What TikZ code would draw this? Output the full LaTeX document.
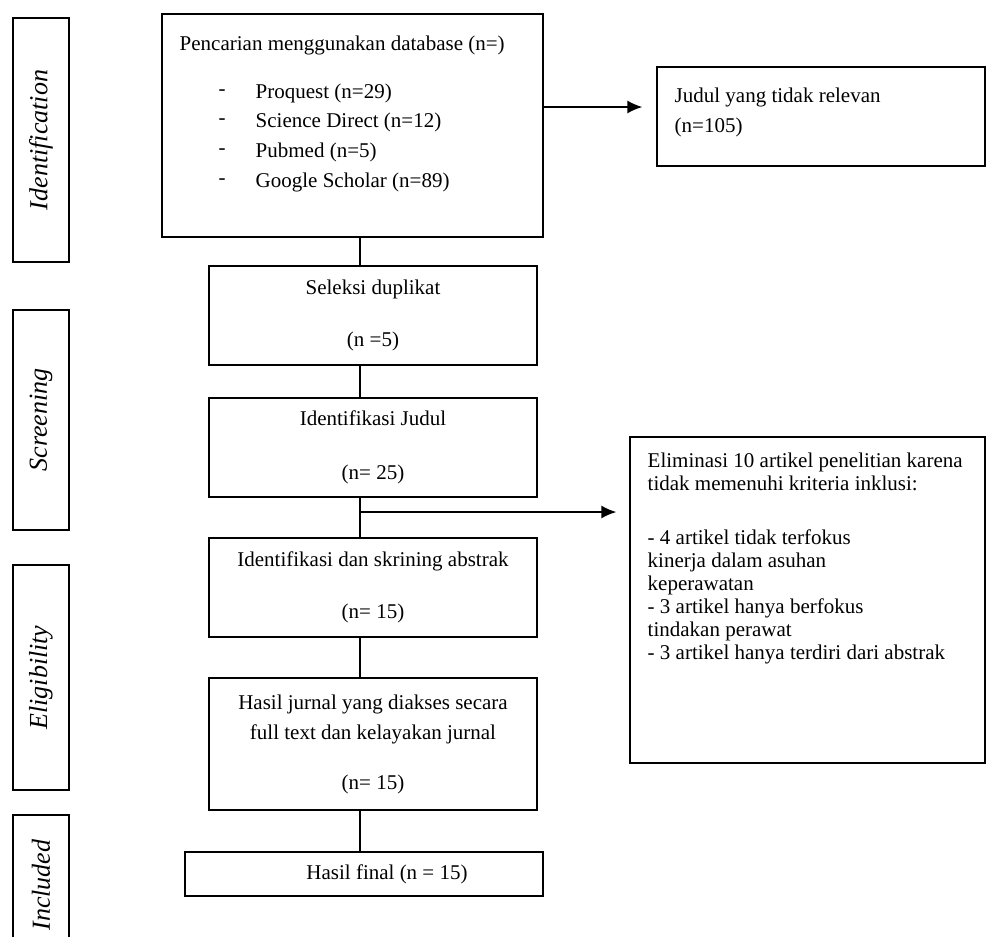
\documentclass[tikz,border=0pt]{standalone}
\usepackage{fontspec}
\usepackage{graphicx}
\setmainfont{Liberation Serif}
\usetikzlibrary{arrows.meta}
\begin{document}
\begin{tikzpicture}[x=1pt, y=-1pt, line width=1.4pt,
	kasten/.style={draw, rectangle, inner sep=0pt, align=center, font=\fontsize{21}{30}\selectfont},
	phase/.style={draw, rectangle, inner sep=0pt, minimum width=56pt, font=\fontsize{26}{30}\selectfont\itshape},
	txt/.style={anchor=west, inner sep=0pt, font=\fontsize{21}{30}\selectfont},
	>={Latex[length=15pt,width=13pt]}]
	\useasboundingbox (0,0) rectangle (986,937);
	%%Phasen
	\foreach \name/\yy/\hh/\lbl in {ident/140/244/Identification, screen/420/220/Screening, elig/677.5/225/Eligibility, incl/885/140/Included}
		\node[phase, minimum height=\hh pt] (\name) at (41,\yy) {\rotatebox{90}{\lbl}};
	%%Suche
	\node[kasten, minimum width=381pt, minimum height=223pt] (search) at (352.5,125.5) {};
	\node[txt] (searchhead) at (179,45) {Pencarian menggunakan database (n=)};
	\foreach \src/\yy [count=\i] in {Proquest (n=29)/93, Science Direct (n=12)/122, Pubmed (n=5)/152, Google Scholar (n=89)/182}{
		\node[txt] (dash\i) at (218,\yy) {-};
		\node[txt] (src\i) at (255,\yy) {\src};
	}
	\node[kasten, minimum width=328pt, minimum height=99pt] (irrelevant) at (821,116.5) {};
	\node[txt, align=left] (irrtext) at (674,112) {Judul yang tidak relevan\\(n=105)};
	%%Kaesten
	\node[kasten, minimum width=328pt, minimum height=99pt] (dup) at (373,315.5) {Seleksi duplikat\\[22pt](n =5)};
	\node[kasten, minimum width=328pt, minimum height=99pt] (judul) at (373,447.5) {Identifikasi Judul\\[24pt](n= 25)};
	\node[kasten, minimum width=328pt, minimum height=99pt] (abstrak) at (373,587.5) {Identifikasi dan skrining abstrak\\[22pt](n= 15)};
	\node[kasten, minimum width=328pt, minimum height=132pt] (fulltext) at (373,744) {Hasil jurnal yang diakses secara\\full text dan kelayakan jurnal\\[20pt](n= 15)};
	\node[kasten, minimum width=358pt, minimum height=44pt] (final) at (364,874) {\hspace*{46pt}Hasil final (n = 15)};
	\node[kasten, minimum width=355pt, minimum height=326pt] (exclude) at (807.5,600) {};
	\node[txt, anchor=north west, align=left, font=\fontsize{21}{23}\selectfont] (excltext) at (647,452) {Eliminasi 10 artikel penelitian karena\\tidak memenuhi kriteria inklusi:\\[31pt]- 4 artikel tidak terfokus\\kinerja dalam asuhan\\keperawatan\\- 3 artikel hanya berfokus\\tindakan perawat\\- 3 artikel hanya terdiri dari abstrak};
	%%Verbindungen
	\coordinate (spine) at (360,0);
	\coordinate (split) at (360,512);
	\coordinate (fork) at (0,107);
	\draw (search.south -| spine) -- (dup.north -| spine);
	\foreach \a/\b in {dup/judul, judul/abstrak, abstrak/fulltext, fulltext/final}
		\draw (\a.south -| spine) -- (\b.north -| spine);
	%%Pfeile
	\draw[->] (search.east |- fork) -- ([xshift=-14pt]irrelevant.west |- fork);
	\draw[->] (split) -- ([xshift=-13pt]exclude.west |- split);
\end{tikzpicture}
\end{document}
